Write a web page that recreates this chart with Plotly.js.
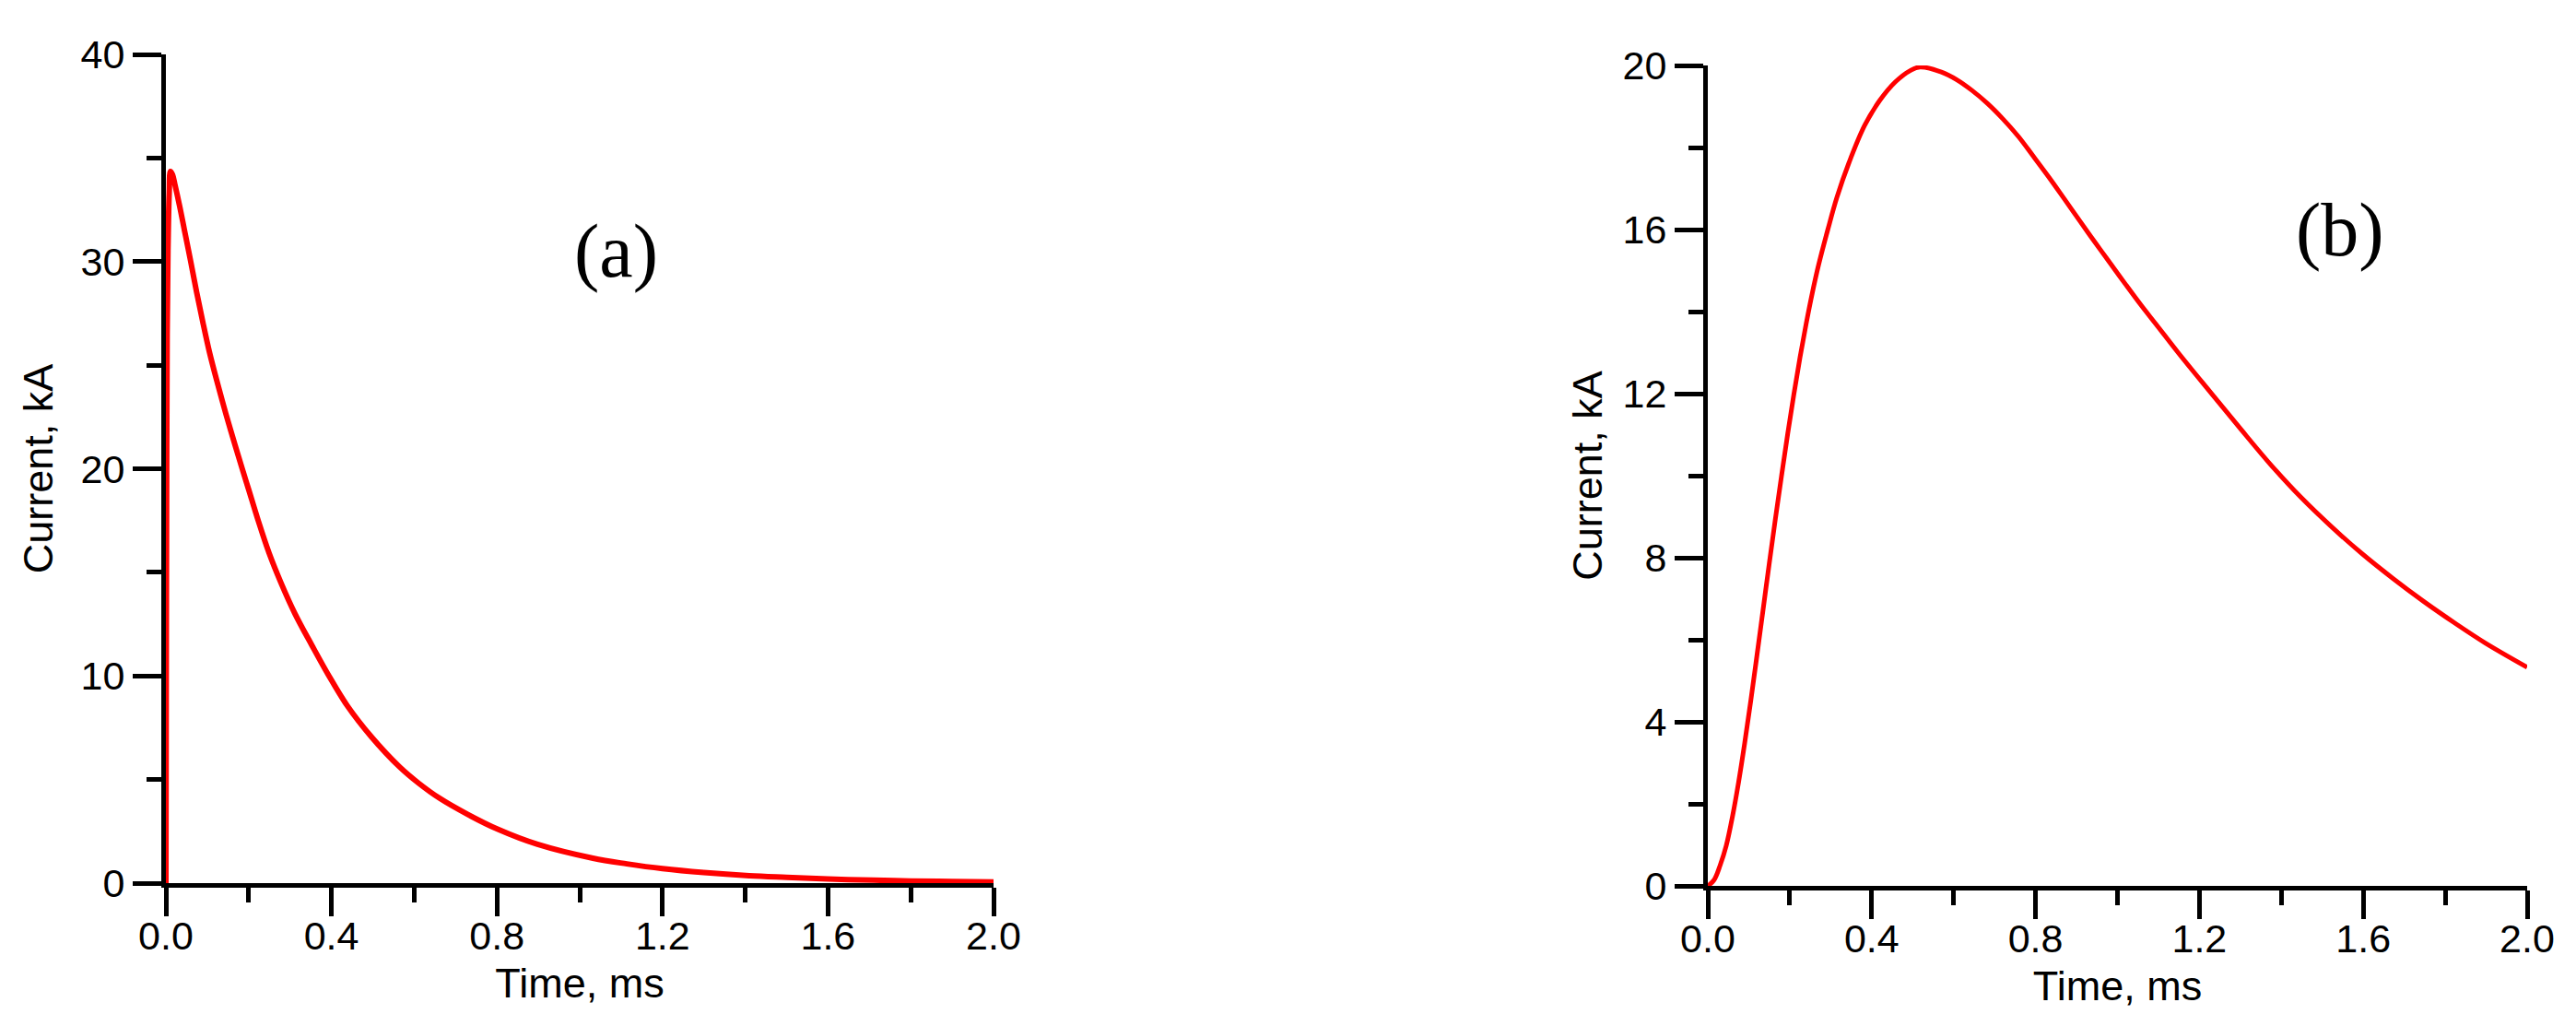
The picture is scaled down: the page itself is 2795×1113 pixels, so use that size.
<!DOCTYPE html>
<html>
<head>
<meta charset="utf-8">
<script src="https://cdn.plot.ly/plotly-3.0.1.min.js"></script>
<style>
html, body { margin: 0; padding: 0; background: #ffffff; }
#chart { width: 2795px; height: 1113px; }
</style>
</head>
<body>
<div id="chart"></div>
<script>
// ---- data ----
// panel (a)
var timeA = [0, 0.001, 0.002, 0.003, 0.005, 0.008, 0.011, 0.016, 0.022, 0.033, 0.045, 0.06, 0.074, 0.089, 0.105, 0.125, 0.145, 0.167, 0.189, 0.2, 0.223, 0.249, 0.278, 0.312, 0.353, 0.394, 0.438, 0.497, 0.564, 0.609, 0.661, 0.728, 0.802, 0.898, 1.032, 1.114, 1.2, 1.3, 1.41, 1.5, 1.6, 1.71, 1.8, 1.9, 2.0];
var currentA = [0, 12, 21, 26.5, 30.5, 33.3, 34.35, 34.2, 33.7, 32.7, 31.5, 30.0, 28.55, 27.1, 25.65, 24.1, 22.65, 21.15, 19.7, 19.0, 17.5, 15.95, 14.5, 13.0, 11.47, 10.0, 8.57, 7.05, 5.62, 4.85, 4.1, 3.33, 2.6, 1.87, 1.2, 0.93, 0.7, 0.51, 0.36, 0.28, 0.2, 0.14, 0.105, 0.075, 0.055];
// panel (b)
var timeB = [0, 0.015, 0.03, 0.045, 0.06, 0.075, 0.09, 0.105, 0.12, 0.135, 0.15, 0.165, 0.18, 0.195, 0.21, 0.225, 0.24, 0.255, 0.27, 0.293, 0.315, 0.345, 0.383, 0.42, 0.458, 0.495, 0.518, 0.57, 0.608, 0.645, 0.683, 0.72, 0.758, 0.795, 0.833, 0.87, 0.908, 0.945, 0.983, 1.02, 1.058, 1.095, 1.148, 1.223, 1.298, 1.373, 1.448, 1.523, 1.598, 1.673, 1.748, 1.823, 1.898, 2.0];
var currentB = [0, 0.14, 0.5, 0.98, 1.68, 2.52, 3.48, 4.52, 5.62, 6.74, 7.86, 8.95, 10.0, 11.02, 11.98, 12.88, 13.7, 14.45, 15.12, 16.0, 16.78, 17.64, 18.54, 19.15, 19.6, 19.88, 19.96, 19.84, 19.65, 19.39, 19.07, 18.7, 18.27, 17.78, 17.27, 16.75, 16.21, 15.69, 15.17, 14.66, 14.15, 13.68, 13.0, 12.08, 11.17, 10.28, 9.47, 8.75, 8.09, 7.49, 6.93, 6.41, 5.92, 5.33];

// tick labels
var xTickVals = [0, 0.4, 0.8, 1.2, 1.6, 2.0];
var xTickText = ['0.0', '0.4', '0.8', '1.2', '1.6', '2.0'];
var xMinorVals = [0.2, 0.6, 1.0, 1.4, 1.8];
var yTickValsA = [0, 10, 20, 30, 40];
var yMinorValsA = [5, 15, 25, 35];
var yTickValsB = [0, 4, 8, 12, 16, 20];
var yMinorValsB = [2, 6, 10, 14, 18];

var panelLabels = ['(a)', '(b)'];
var xTitle = 'Time, ms';
var yTitle = 'Current, kA';

// ---- layout helpers ----
var W = 2795, H = 1113;
var sansFont = 'Liberation Sans, Arial, Helvetica, sans-serif';
var serifFont = 'Liberation Serif, Times New Roman, serif';

function xAxis(dom, anchor) {
  return {
    domain: dom, anchor: anchor, range: [0, 2],
    tickmode: 'array', tickvals: xTickVals, ticktext: xTickText,
    ticks: 'outside', ticklen: 31, tickwidth: 5, tickcolor: '#000',
    ticklabelstandoff: -16,
    minor: { tickmode: 'array', tickvals: xMinorVals, ticks: 'outside', ticklen: 16, tickwidth: 5, tickcolor: '#000' },
    showline: true, linewidth: 5, linecolor: '#000',
    showgrid: false, zeroline: false, layer: 'below traces',
    tickfont: { family: sansFont, size: 43, color: '#000' },
    title: { text: xTitle, font: { family: sansFont, size: 45, color: '#000' }, standoff: 14 },
    fixedrange: true
  };
}
function yAxis(dom, anchor, rng, vals, minorVals, titleStandoff) {
  return {
    domain: dom, anchor: anchor, range: rng,
    tickmode: 'array', tickvals: vals, ticktext: vals.map(String),
    ticks: 'outside', ticklen: 31, tickwidth: 5, tickcolor: '#000',
    minor: { tickmode: 'array', tickvals: minorVals, ticks: 'outside', ticklen: 16, tickwidth: 5, tickcolor: '#000' },
    showline: true, linewidth: 5, linecolor: '#000',
    showgrid: false, zeroline: false, layer: 'below traces',
    tickfont: { family: sansFont, size: 43, color: '#000' },
    title: { text: yTitle, font: { family: sansFont, size: 45, color: '#000' }, standoff: titleStandoff },
    fixedrange: true
  };
}

var traces = [
  { x: timeA, y: currentA, type: 'scatter', mode: 'lines', xaxis: 'x', yaxis: 'y',
    line: { color: '#ff0000', width: 6, shape: 'spline', smoothing: 1 }, cliponaxis: false, hoverinfo: 'skip' },
  { x: timeB, y: currentB, type: 'scatter', mode: 'lines', xaxis: 'x2', yaxis: 'y2',
    line: { color: '#ff0000', width: 5, shape: 'spline', smoothing: 1 }, cliponaxis: false, hoverinfo: 'skip' }
];

var layout = {
  width: W, height: H,
  margin: { l: 0, r: 0, t: 0, b: 0, pad: 0 },
  paper_bgcolor: '#ffffff', plot_bgcolor: '#ffffff',
  showlegend: false,
  font: { family: sansFont, color: '#000', size: 43 },
  xaxis: xAxis([180 / W, 1078 / W], 'y'),
  yaxis: yAxis([(H - 958) / H, (H - 59) / H], 'x', [0, 40], yTickValsA, yMinorValsA, 17),
  xaxis2: xAxis([1853 / W, 2742 / W], 'y2'),
  yaxis2: yAxis([(H - 961) / H, (H - 71) / H], 'x2', [0, 20], yTickValsB, yMinorValsB, 9),
  annotations: [
    { text: panelLabels[0], xref: 'paper', yref: 'paper', x: 668 / W, y: 1 - 273 / H,
      xanchor: 'center', yanchor: 'middle', showarrow: false,
      font: { family: serifFont, size: 82, color: '#000' } },
    { text: panelLabels[1], xref: 'paper', yref: 'paper', x: 2539 / W, y: 1 - 249 / H,
      xanchor: 'center', yanchor: 'middle', showarrow: false,
      font: { family: serifFont, size: 82, color: '#000' } }
  ]
};

Plotly.newPlot('chart', traces, layout, { staticPlot: true, displayModeBar: false });
</script>
</body>
</html>
